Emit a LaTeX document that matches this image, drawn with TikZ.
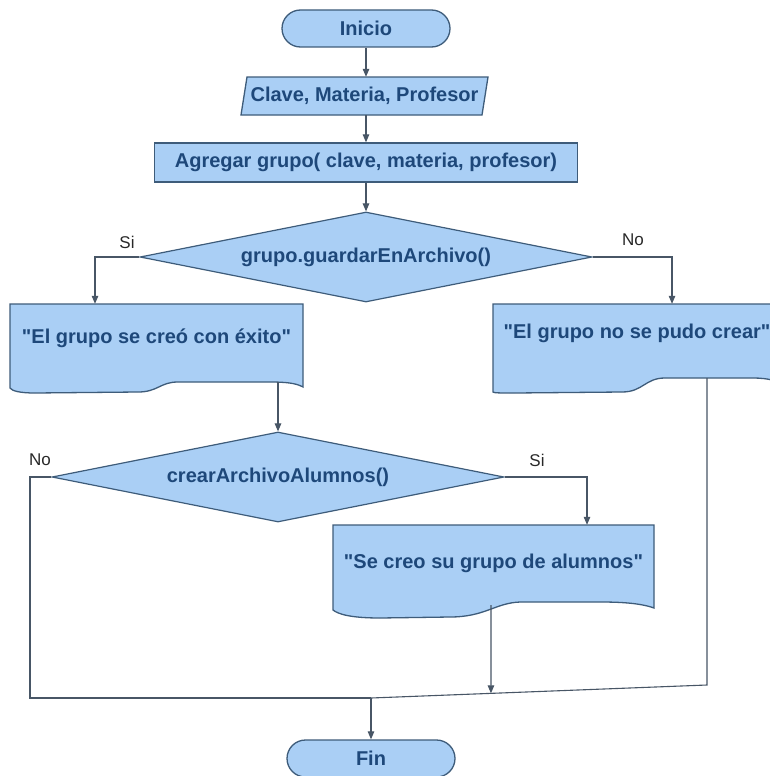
\documentclass[tikz,border=0pt]{standalone}
\usepackage{fontspec}
\setmainfont[Ligatures=TeXOff]{Liberation Sans}
\usetikzlibrary{shapes.geometric,shapes.misc,arrows.meta,calc}
\definecolor{fillb}{RGB}{170,207,245}
\definecolor{edge}{RGB}{62,92,122}
\definecolor{txt}{RGB}{30,72,122}
\definecolor{lin}{RGB}{72,86,102}
\definecolor{lab}{RGB}{40,40,40}
\begin{document}
\begin{tikzpicture}[x=1pt,y=-1pt,
  every node/.style={font=\fontsize{20}{24}\selectfont\bfseries, text=txt, inner sep=0pt},
  term/.style={rounded rectangle, draw=edge, fill=fillb, line width=1.3pt, minimum width=168pt, minimum height=37pt},
  procbox/.style={rectangle, draw=edge, fill=fillb, line width=1.3pt},
  dec/.style={diamond, aspect=5, draw=edge, fill=fillb, line width=1.2pt, minimum width=452pt, minimum height=90pt},
  shapeline/.style={draw=edge, fill=fillb, line width=1.3pt},
  conn/.style={draw=lin, line width=1.1pt},
  arr/.style={conn, -{Triangle[length=8pt,width=6.5pt]}},
  lbl/.style={font=\fontsize{17}{20}\selectfont, text=lab}
]
\useasboundingbox (0,0) rectangle (769,776);
\fill[white] (0,0) rectangle (769,776);

% start
\node[term] (ini) at (366,28.5) {Inicio};

% input parallelogram
\draw[shapeline] (247,77) -- (488,77) -- (482,115) -- (241,115) -- cycle;
\node[minimum width=241pt, minimum height=38pt] (inp) at (364.5,96) {Clave, Materia, Profesor};

% process
\node[procbox, minimum width=423pt, minimum height=39pt] (proc) at (366,162.5) {Agregar grupo( clave, materia, profesor)};

% decision 1
\node[dec] (d1) at (366,257) {grupo.guardarEnArchivo()};

% document 1
\draw[shapeline] (10,304) -- (303,304) -- (303,387)
  .. controls (296,383) and (285,382) .. (270,382) -- (178,382)
  .. controls (160,382) and (158,392) .. (138,392) -- (35,393)
  .. controls (20,393) and (12,391) .. (10,388) -- cycle;
\node[minimum width=293pt, minimum height=68pt] (doc1) at (156.5,338) {"El grupo se creó con éxito"};

% document 2
\draw[shapeline] (493,304) -- (786,304) -- (786,386)
  .. controls (779,381) and (768,378) .. (753,378) -- (665,378)
  .. controls (645,378) and (643,392) .. (622,392) -- (515,393)
  .. controls (500,393) and (494,393) .. (493,392) -- cycle;
\node[minimum width=293pt, minimum height=58pt] (doc2) at (637,333) {"El grupo no se pudo crear"};

% decision 2
\node[dec] (d2) at (278,477) {crearArchivoAlumnos()};

% document 3
\draw[shapeline] (333,525) -- (654,525) -- (654,608)
  .. controls (640,603) and (620,602) .. (600,602) -- (520,602)
  .. controls (495,603) and (485,617) .. (450,617) -- (380,618)
  .. controls (350,618) and (338,614) .. (333,610) -- cycle;
\node[minimum width=321pt, minimum height=76pt] (doc3) at (493.5,563) {"Se creo su grupo de alumnos"};

% end
\node[term] (fin) at (371,758.5) {Fin};

% connectors
\draw[arr] (ini.south) -- (ini.south |- inp.north);
\draw[arr] (ini.south |- inp.south) -- (proc.north);
\draw[arr] (proc.south) -- (d1.north);
\draw[arr] (d1.west) -| ([xshift=-61.5pt]doc1.north);
\draw[arr] (d1.east) -| ([xshift=35pt]doc2.north);
\coordinate (o1) at (278,382);
\draw[arr] (o1) -- (d2.north);
\draw[arr] (d2.east) -| ([xshift=93.5pt]doc3.north);
\coordinate (m) at (371,698);
\coordinate (lb) at (30,698);
\coordinate (rb) at (707,685);
\coordinate (o2) at (707,378);
\coordinate (o3) at (491,605);
\draw[conn] (d2.west) -| (lb) -- (m);
\draw[conn] (o2) -- (rb) -- (m);
\draw[arr] (o3) -- ($(m)!0.357!(rb)$);
\draw[arr] (m) -- (fin.north);

% labels
\node[lbl] (si1) at (127,242) {Si};
\node[lbl] (no1) at (633,240) {No};
\node[lbl] (no2) at (40,460) {No};
\node[lbl] (si2) at (537,460) {Si};
\end{tikzpicture}
\end{document}
